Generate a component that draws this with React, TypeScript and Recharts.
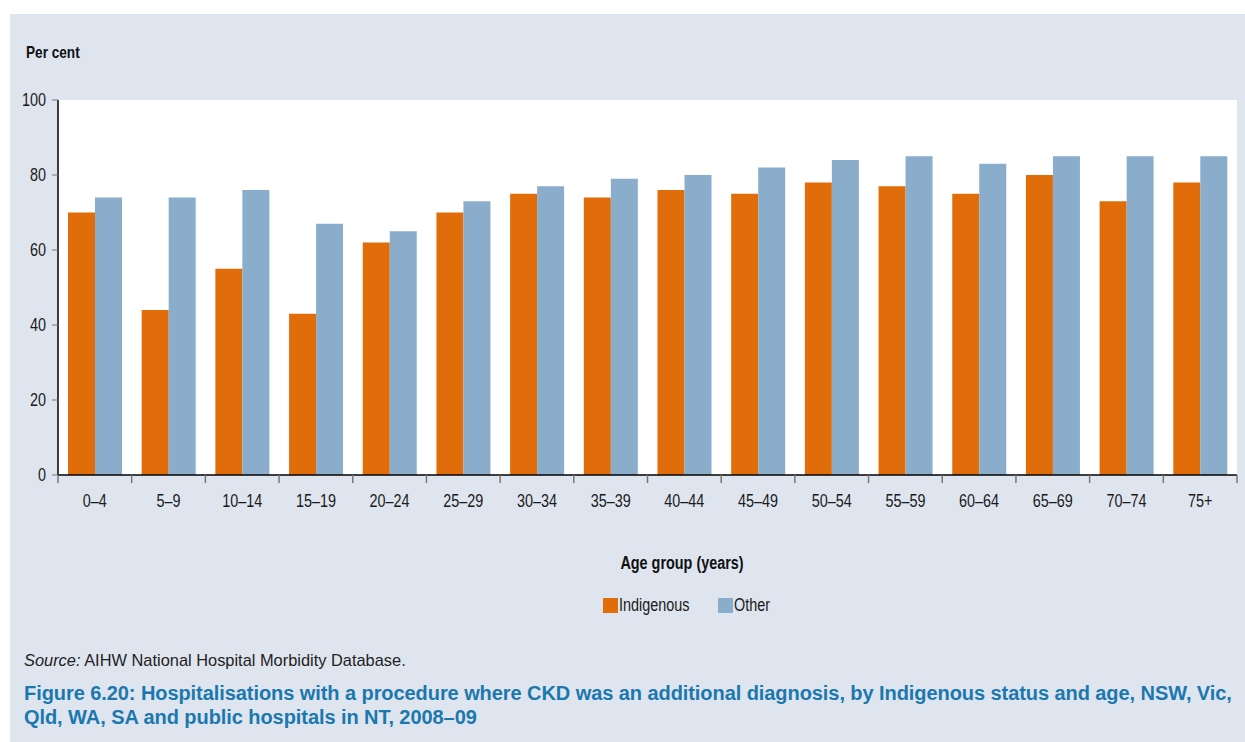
import { BarChart, Bar, XAxis, YAxis } from "recharts";

const ageGroups = [
  "0–4", "5–9", "10–14", "15–19", "20–24", "25–29", "30–34", "35–39",
  "40–44", "45–49", "50–54", "55–59", "60–64", "65–69", "70–74", "75+",
];
const indigenous = [70, 44, 55, 43, 62, 70, 75, 74, 76, 75, 78, 77, 75, 80, 73, 78];
const other = [74, 74, 76, 67, 65, 73, 77, 79, 80, 82, 84, 85, 83, 85, 85, 85];
const yTicks = [0, 20, 40, 60, 80, 100];
const seriesNames = ["Indigenous", "Other"];

const data = ageGroups.map((age, i) => ({
  age,
  Indigenous: indigenous[i],
  Other: other[i],
}));

const ORANGE = "#e06c0a";
const BLUE = "#8aadcc";
const PANEL = "#dfe5ef";
const FONT = "'Liberation Sans', Arial, sans-serif";
const SQUEEZE = 0.8;

const W = 1245;
const H = 742;
const PLOT_LEFT = 58;
const PLOT_RIGHT = 1237;
const PLOT_TOP = 100;
const PLOT_BOTTOM = 475;
const BAND = (PLOT_RIGHT - PLOT_LEFT) / ageGroups.length;

function AgeTick(props: any) {
  const { x, y, payload, index } = props;
  const left = x - BAND / 2;
  return (
    <g>
      <line x1={left} y1={y - 8} x2={left} y2={y} stroke="#777" strokeWidth={1.5} />
      {index === ageGroups.length - 1 && (
        <line x1={left + BAND} y1={y - 8} x2={left + BAND} y2={y} stroke="#777" strokeWidth={1.5} />
      )}
      <text
        transform={`translate(${x},${y + 24}) scale(${SQUEEZE},1)`}
        textAnchor="middle"
        fontSize={18}
        fill="#1a1a1a"
        fontFamily={FONT}
      >
        {payload.value}
      </text>
    </g>
  );
}

function ValueTick(props: any) {
  const { x, y, payload } = props;
  return (
    <text
      transform={`translate(${x},${y + 6}) scale(${SQUEEZE},1)`}
      textAnchor="end"
      fontSize={18}
      fill="#1a1a1a"
      fontFamily={FONT}
    >
      {payload.value}
    </text>
  );
}

const squeezed = (origin: string) => ({
  transform: `scaleX(${SQUEEZE})`,
  transformOrigin: origin,
  whiteSpace: "nowrap" as const,
});

export default function App() {
  const colors = [ORANGE, BLUE];
  return (
    <div style={{ position: "absolute", left: 0, top: 0, width: W, height: H, background: "#fff", overflow: "hidden" }}>
      <div style={{ position: "absolute", left: 10, top: 14, width: W - 10, height: H - 14, background: PANEL }} />
      <div style={{ position: "absolute", left: 0, top: 0 }}>
        <BarChart
          width={W}
          height={520}
          data={data}
          margin={{ top: PLOT_TOP, right: W - PLOT_RIGHT, left: 10, bottom: 520 - PLOT_BOTTOM - 40 }}
          barCategoryGap={10}
          barGap={0}
        >
          <rect x={PLOT_LEFT} y={PLOT_TOP} width={PLOT_RIGHT - PLOT_LEFT} height={PLOT_BOTTOM - PLOT_TOP} fill="#fff" />
          <XAxis
            dataKey="age"
            height={40}
            axisLine={{ stroke: "#000", strokeWidth: 1.5 }}
            tickLine={false}
            interval={0}
            tick={<AgeTick />}
          />
          <YAxis
            width={48}
            domain={[0, 100]}
            ticks={yTicks}
            interval={0}
            axisLine={{ stroke: "#000", strokeWidth: 1.5 }}
            tickLine={{ stroke: "#777" }}
            tickSize={6}
            tickMargin={6}
            tick={<ValueTick />}
          />
          <Bar dataKey="Indigenous" fill={ORANGE} isAnimationActive={false} />
          <Bar dataKey="Other" fill={BLUE} isAnimationActive={false} />
        </BarChart>
      </div>
      <div style={{ position: "absolute", left: 26, top: 43, fontFamily: FONT, fontWeight: "bold", fontSize: 17, color: "#111", ...squeezed("left") }}>
        Per cent
      </div>
      <div style={{ position: "absolute", left: 482, width: 400, top: 553, textAlign: "center", fontFamily: FONT, fontWeight: "bold", fontSize: 18, color: "#111", ...squeezed("center") }}>
        Age group (years)
      </div>
      <div style={{ position: "absolute", left: 603, top: 595, display: "flex", alignItems: "center", fontFamily: FONT, fontSize: 18, color: "#1a1a1a" }}>
        {seriesNames.map((name, i) => (
          <div key={name} style={{ display: "flex", alignItems: "center", width: i === 0 ? 115 : 60 }}>
            <span style={{ width: 15, height: 15, background: colors[i], display: "inline-block", flex: "none" }} />
            <span style={{ marginLeft: 1, ...squeezed("left") }}>{name}</span>
          </div>
        ))}
      </div>
      <div style={{ position: "absolute", left: 24, top: 651, fontFamily: FONT, fontSize: 16.4, color: "#222", whiteSpace: "nowrap" }}>
        <i>Source:</i> AIHW National Hospital Morbidity Database.
      </div>
      <div style={{ position: "absolute", left: 24, top: 681, fontFamily: FONT, fontWeight: "bold", fontSize: 20, lineHeight: "24px", letterSpacing: -0.07, color: "#1b78ae", whiteSpace: "nowrap" }}>
        Figure 6.20: Hospitalisations with a procedure where CKD was an additional diagnosis, by Indigenous status and age, NSW, Vic,
        <br />
        Qld, WA, SA and public hospitals in NT, 2008–09
      </div>
    </div>
  );
}
